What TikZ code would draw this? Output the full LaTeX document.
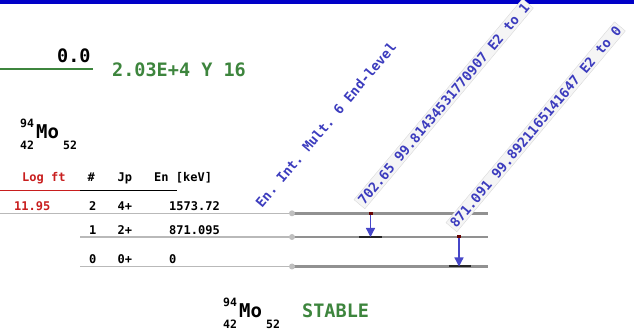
\documentclass[tikz,border=0pt]{standalone}
\usepackage{fontspec}
\setmonofont{DejaVu Sans Mono}[BoldFont={DejaVu Sans Mono Bold}]
\usetikzlibrary{arrows.meta,calc}
\definecolor{nblue}{RGB}{0,0,200}
\definecolor{ngreen}{RGB}{61,133,61}
\definecolor{nred}{RGB}{200,30,30}
\definecolor{gblue}{RGB}{70,70,200}
\definecolor{lblue}{RGB}{60,60,190}
\definecolor{thinl}{RGB}{185,185,185}
\definecolor{thickl}{RGB}{145,145,145}
\newcommand{\fsz}[1]{\fontsize{#1}{#1}\selectfont\ttfamily\bfseries}
\begin{document}
\begin{tikzpicture}[x=1pt,y=-1pt,
  txt/.style={inner sep=0pt, anchor=base west},
  big/.style={txt, font=\fsz{18.5}},
  tab/.style={txt, font=\fsz{12}},
  sup/.style={txt, font=\fsz{11.5}},
  rot/.style={anchor=base west, inner sep=0pt, rotate=50, font=\fsz{13.4}, text=lblue},
  rotbox/.style={rot, fill=black!4, draw=black!15, line width=0.4pt, inner sep=2pt},
  thin/.style={draw=thinl, line width=1.3pt},
  thick/.style={draw=thickl, line width=2.6pt},
  gam/.style={draw=gblue, line width=1.3pt, -{Triangle[length=9pt,width=9pt]}},
  bar/.style={draw=black!85, line width=2pt}]
\useasboundingbox (0,0) rectangle (634,336);
\fill[nblue] (0,0) rectangle (634,4);

% parent level
\coordinate (pL) at (0,69.5);
\coordinate (pR) at (93,69.5);
\draw[ngreen, line width=2pt] (pL) -- (pR);
\node[big] (pE) at (57,63) {0.0};
\node[big, text=ngreen] (pT) at (112,76.7) {2.03E+4 Y 16};

% parent nucleus
\node[sup] (pA) at (20,128) {94};
\node[txt, font=\fsz{19}] (pS) at (36,139) {Mo};
\node[sup] (pZ) at (20,150) {42};
\node[sup] (pN) at (63,150) {52};

% table header
\node[tab, text=nred] (hLog) at (22,181.5) {Log ft};
\node[tab] (hNum) at (87.5,181.5) {\#};
\node[tab] (hJp) at (117.5,181.5) {Jp};
\node[tab] (hEn) at (154,181.5) {En [keV]};
\coordinate (hr0) at (0,190.5);
\coordinate (hr1) at (80,190.5);
\coordinate (hr2) at (177,190.5);
\draw[nred, line width=1.2pt] (hr0) -- (hr1);
\draw[black, line width=1.2pt] (hr1) -- (hr2);

% rows
\node[tab, text=nred] (r2lf) at (14,211) {11.95};
\node[tab] (r2n) at (89,211) {2};
\node[tab] (r2j) at (117.5,211) {4+};
\node[tab] (r2e) at (169,211) {1573.72};
\node[tab] (r1n) at (89,234.3) {1};
\node[tab] (r1j) at (117.5,234.3) {2+};
\node[tab] (r1e) at (169,234.3) {871.095};
\node[tab] (r0n) at (89,263.5) {0};
\node[tab] (r0j) at (117.5,263.5) {0+};
\node[tab] (r0e) at (169,263.5) {0};

% level lines
\coordinate (l2a) at (0,213.3);   \coordinate (l2m) at (292,213.3); \coordinate (l2b) at (488,213.3);
\coordinate (l1a) at (80,237);    \coordinate (l1m) at (292,237);   \coordinate (l1b) at (488,237);
\coordinate (l0a) at (80,266.5);  \coordinate (l0m) at (292,266.5); \coordinate (l0b) at (488,266.5);
\foreach \l in {2,1,0}{
  \draw[thin] (l\l a) -- (l\l m);
  \draw[thick] (l\l m) -- (l\l b);
  \fill[black!25] (l\l m) circle (3pt);
}

% gamma transitions
\coordinate (g1t) at (370.5,213.3);
\coordinate (g1b) at (370.5,237);
\coordinate (g1l) at (359,237);
\coordinate (g1r) at (382,237);
\draw[bar] (g1l) -- (g1r);
\draw[gam] (g1t) -- (g1b);
\fill[red!40!black] ($(g1t)+(-2,-1.5)$) rectangle ($(g1t)+(2,1.5)$);

\coordinate (g2t) at (459,237);
\coordinate (g2b) at (459,266.5);
\coordinate (g2l) at (449,266.5);
\coordinate (g2r) at (471,266.5);
\draw[bar] (g2l) -- (g2r);
\draw[gam] (g2t) -- (g2b);
\fill[red!40!black] ($(g2t)+(-2,-1.5)$) rectangle ($(g2t)+(2,1.5)$);

% rotated labels
\node[rot] (lhead) at (262,208.5) {En. Int. Mult. 6 End-level};
\node[rotbox] (lg1) at (363,207.5) {702.65 99.81434531770907 E2 to 1};
\node[rotbox] (lg2) at (455,230.5) {871.091 99.8921165141647 E2 to 0};

% daughter nucleus
\node[sup] (dA) at (223,306.7) {94};
\node[txt, font=\fsz{19}] (dS) at (239,317) {Mo};
\node[sup] (dZ) at (223,328) {42};
\node[sup] (dN) at (266,328) {52};
\node[big, text=ngreen] (dT) at (302,317) {STABLE};
\end{tikzpicture}
\end{document}
